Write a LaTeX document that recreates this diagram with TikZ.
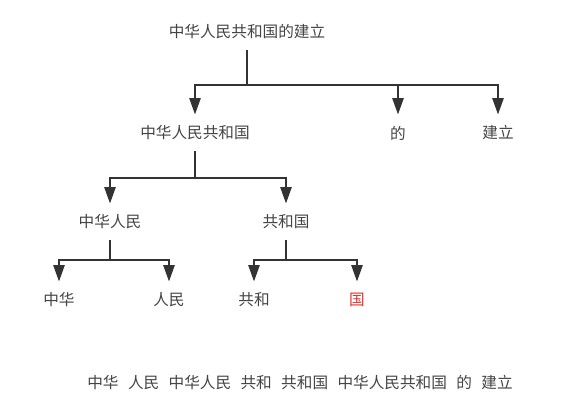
\documentclass[tikz,border=0pt]{standalone}
\usepackage{fontspec}
\newfontfamily\cjk{Noto Sans CJK SC}
\usetikzlibrary{arrows.meta,positioning,calc}
\definecolor{ink}{HTML}{333333}
\definecolor{wordgray}{HTML}{444444}
\definecolor{mark}{HTML}{E5322D}

\begin{document}
\begin{tikzpicture}[x=0.02cm,y=-0.02cm,
  font=\cjk\fontsize{8.9}{10}\selectfont,
  word/.style={text=wordgray,inner sep=0pt,minimum height=0.72cm},
  stem/.style={draw=ink,line width=1.4pt},
  link/.style={stem,-{Triangle[length=3.3mm,width=2.2mm]}}
]
  \useasboundingbox (0,0) rectangle (562,405);

  % sentence and its splits
  \node[word] (root) at (247,32) {中华人民共和国的建立};
  \node[word] (prc) at (195,133) {中华人民共和国};
  \node[word] (de) at (398,133) {的};
  \node[word] (jianli) at (498,133) {建立};
  \node[word] (zhrm) at (110,222) {中华人民};
  \node[word] (ghg) at (286,222) {共和国};
  \node[word] (zh) at (59,300) {中华};
  \node[word] (rm) at (169,300) {人民};
  \node[word] (gh) at (254,300) {共和};
  \node[word,text=mark] (guo) at (357,300) {国};

  % junctions
  \coordinate (j0) at (247,85);
  \coordinate (j1) at (195,178);
  \coordinate (j2) at (110,260);
  \coordinate (j3) at (286,260);

  \draw[stem] (root.south) -- (j0);
  \draw[link] (j0) -| (prc.north);
  \draw[link] (j0) -| (de.north);
  \draw[link] (j0) -| (jianli.north);

  \draw[stem] (prc.south) -- (j1);
  \draw[link] (j1) -| (zhrm.north);
  \draw[link] (j1) -| (ghg.north);

  \draw[stem] (zhrm.south) -- (j2);
  \draw[link] (j2) -| (zh.north);
  \draw[link] (j2) -| (rm.north);

  \draw[stem] (ghg.south) -- (j3);
  \draw[link] (j3) -| (gh.north);
  \draw[link] (j3) -| (guo.north);

  % all words listed
  \node[word,anchor=west] (all) at (87,383)
    {中华\hspace{0.6em}人民\hspace{0.6em}中华人民\hspace{0.6em}共和\hspace{0.6em}共和国\hspace{0.6em}中华人民共和国\hspace{0.6em}的\hspace{0.6em}建立};
\end{tikzpicture}
\end{document}
